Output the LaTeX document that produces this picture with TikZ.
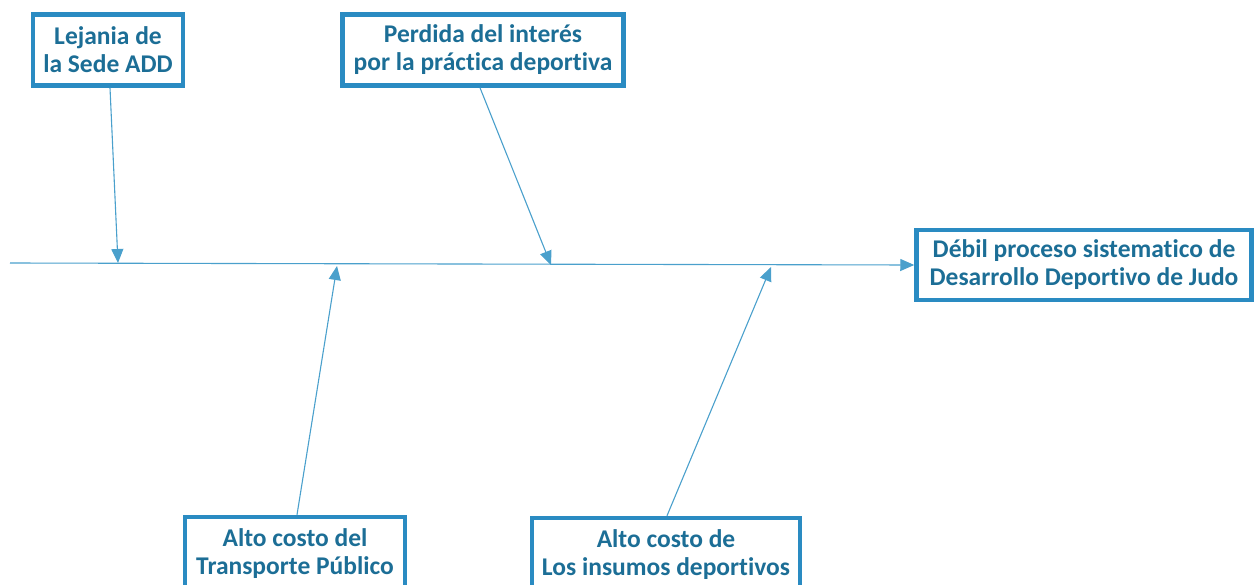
\documentclass[tikz,border=0pt]{standalone}
\usepackage{fontspec}
\setmainfont{Carlito}[Ligatures=NoCommon]
\usetikzlibrary{arrows.meta}
\definecolor{boxblue}{HTML}{2A8BC2}
\definecolor{textblue}{HTML}{1C6E96}
\definecolor{lineblue}{HTML}{4AA0CC}

\begin{document}
\begin{tikzpicture}[x=1pt, y=1pt,
                    causebox/.style={draw=boxblue, line width=4.5pt, align=center, inner sep=2pt,
                                     font=\fontsize{25.5}{28}\selectfont\bfseries, text=textblue,
                                     minimum height=71pt},
                    cause/.style={draw=lineblue, line width=1.1pt, -{Triangle[length=14pt, width=12pt, fill=lineblue]}}]
                    \useasboundingbox (0,0) rectangle (1256,-584);
                    \node (lejania) [causebox, minimum width=150pt] at (108,-50) {Lejania de\\la Sede ADD};
                    \node (perdida) [causebox, minimum width=281pt] at (483,-50) {Perdida del interés\\por la práctica deportiva};
                    \node (debil) [causebox, minimum width=335pt, minimum height=70pt] at (1084,-265) {Débil proceso sistematico de\\Desarrollo Deportivo de Judo};
                    \node (transporte) [causebox, minimum width=220pt, minimum height=74pt] at (295,-554) {Alto costo del\\Transporte Público};
                    \node (insumos) [causebox, minimum width=268pt, minimum height=74pt] at (666,-555) {Alto costo de\\Los insumos deportivos};
                    \coordinate (spine) at (10,-263);
                    \coordinate (h1) at (118,-263);
                    \coordinate (h2) at (337,-266);
                    \coordinate (h3) at (551,-265);
                    \coordinate (h4) at (771,-267);
                    \path (spine) edge[cause] (debil.west);
                    \path ([xshift=2pt]lejania.south) edge[cause] (h1);
                    \path ([xshift=-3pt]perdida.south) edge[cause] (h3);
                    \path ([xshift=2pt]transporte.north) edge[cause] (h2);
                    \path ([xshift=1pt]insumos.north) edge[cause] (h4);
                \end{tikzpicture}
\end{document}
